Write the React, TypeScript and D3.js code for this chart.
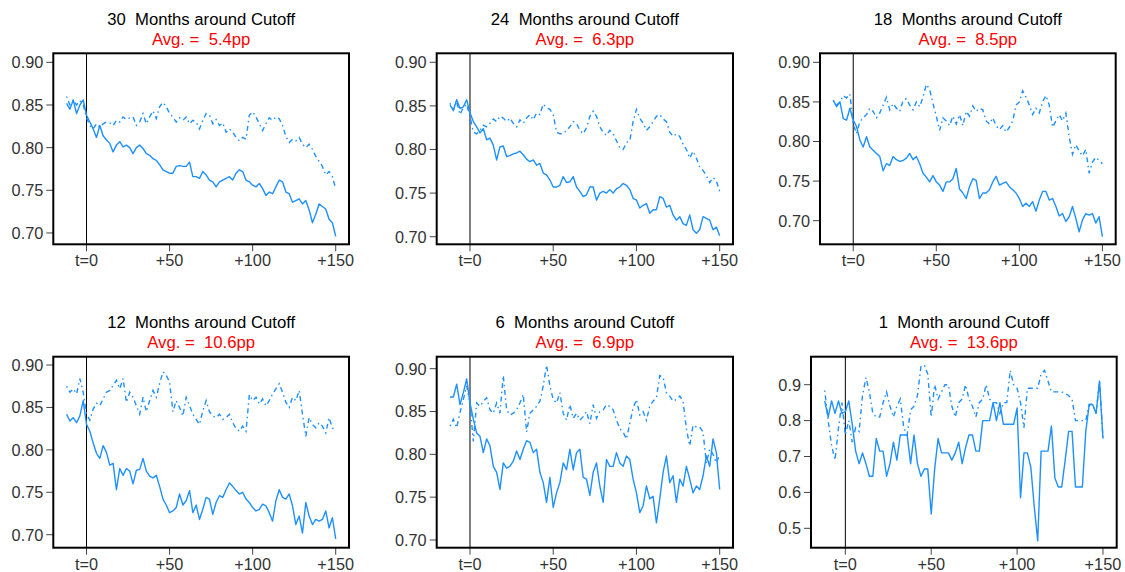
import * as d3 from "d3";

// months relative to the cutoff (every second month)
const months = d3.range(-12, 151, 2);

const titles = [
  "30  Months around Cutoff",
  "24  Months around Cutoff",
  "18  Months around Cutoff",
  "12  Months around Cutoff",
  "6  Months around Cutoff",
  "1  Month around Cutoff",
];
const averages = ["5.4", "6.3", "8.5", "10.6", "6.9", "13.6"];

const xTicks = [0, 50, 100, 150];
const xTickLabels = ["t=0", "+50", "+100", "+150"];
const yTicksFine = [0.7, 0.75, 0.8, 0.85, 0.9];
const yTicksCoarse = [0.5, 0.6, 0.7, 0.8, 0.9];
const yLimits = [
  [0.6867, 0.9106],
  [0.6913, 0.9103],
  [0.6702, 0.9114],
  [0.6847, 0.9098],
  [0.691, 0.914],
  [0.446, 0.978],
];

// solid line (treated)
const solid30 = [
  0.852, 0.845, 0.856, 0.84, 0.85, 0.856, 0.838, 0.83, 0.822, 0.812,
  0.826, 0.814, 0.809, 0.805, 0.795, 0.803, 0.807, 0.801, 0.803, 0.8,
  0.793, 0.8, 0.803, 0.799, 0.793, 0.791, 0.787, 0.785, 0.78, 0.774,
  0.772, 0.77, 0.77, 0.778, 0.779, 0.778, 0.778, 0.783, 0.766, 0.766,
  0.764, 0.772, 0.768, 0.762, 0.76, 0.754, 0.76, 0.762, 0.764, 0.766,
  0.762, 0.77, 0.774, 0.772, 0.762, 0.76, 0.756, 0.754, 0.758, 0.752,
  0.744, 0.748, 0.746, 0.754, 0.762, 0.76, 0.748, 0.746, 0.736, 0.738,
  0.74, 0.734, 0.738, 0.727, 0.712, 0.722, 0.734, 0.731, 0.728, 0.716,
  0.712, 0.696,
];
const dashed30 = [
  0.86, 0.85, 0.856, 0.85, 0.855, 0.85, 0.835, 0.826, 0.822, 0.828,
  0.824, 0.828, 0.83, 0.829, 0.826, 0.832, 0.83, 0.836, 0.833, 0.835,
  0.836, 0.826, 0.83, 0.84, 0.828, 0.836, 0.843, 0.834, 0.848, 0.853,
  0.848, 0.84, 0.836, 0.83, 0.835, 0.832, 0.836, 0.828, 0.832, 0.83,
  0.822, 0.832, 0.84, 0.838, 0.828, 0.833, 0.826, 0.829, 0.818, 0.822,
  0.818, 0.812, 0.808, 0.812, 0.81, 0.838, 0.842, 0.836, 0.828, 0.82,
  0.828, 0.835, 0.832, 0.836, 0.834, 0.826, 0.813, 0.806, 0.81, 0.808,
  0.812, 0.804, 0.8, 0.804, 0.798, 0.79, 0.784, 0.778, 0.768, 0.772,
  0.766, 0.752,
];
const solid24 = [
  0.851, 0.845, 0.857, 0.847, 0.849, 0.857, 0.842, 0.832, 0.826, 0.819,
  0.824, 0.811, 0.813, 0.805, 0.788, 0.803, 0.804, 0.792, 0.793, 0.795,
  0.796, 0.798, 0.794, 0.789, 0.786, 0.788, 0.782, 0.784, 0.773, 0.771,
  0.765, 0.757, 0.757, 0.759, 0.769, 0.762, 0.763, 0.769, 0.757, 0.752,
  0.746, 0.748, 0.757, 0.757, 0.742, 0.75, 0.752, 0.75, 0.754, 0.75,
  0.755, 0.757, 0.761, 0.759, 0.754, 0.744, 0.742, 0.733, 0.736, 0.738,
  0.727, 0.731, 0.731, 0.746, 0.744, 0.734, 0.736, 0.725, 0.719, 0.723,
  0.715, 0.713, 0.725, 0.708, 0.704, 0.708, 0.723, 0.721, 0.719, 0.708,
  0.711, 0.701,
];
const dashed24 = [
  0.853, 0.845, 0.855, 0.84, 0.848, 0.852, 0.838, 0.82, 0.818, 0.822,
  0.828, 0.826, 0.83, 0.835, 0.832, 0.838, 0.836, 0.832, 0.836, 0.83,
  0.826, 0.834, 0.83, 0.836, 0.84, 0.834, 0.842, 0.84, 0.852, 0.848,
  0.846, 0.84, 0.82, 0.818, 0.818, 0.822, 0.826, 0.832, 0.83, 0.822,
  0.818, 0.825, 0.838, 0.844, 0.838, 0.826, 0.82, 0.816, 0.822, 0.818,
  0.81, 0.802, 0.8, 0.808, 0.81, 0.832, 0.846, 0.836, 0.83, 0.822,
  0.826, 0.832, 0.838, 0.84, 0.835, 0.832, 0.82, 0.815, 0.818, 0.815,
  0.806, 0.8, 0.79, 0.798, 0.79, 0.78, 0.776, 0.77, 0.762, 0.768,
  0.764, 0.752,
];
const solid18 = [
  0.852, 0.844, 0.85, 0.829, 0.827, 0.842, 0.827, 0.819, 0.802, 0.793,
  0.806, 0.793, 0.789, 0.785, 0.781, 0.763, 0.772, 0.77, 0.781, 0.777,
  0.775, 0.776, 0.779, 0.785, 0.777, 0.781, 0.772, 0.76, 0.755, 0.749,
  0.757, 0.749, 0.745, 0.737, 0.749, 0.749, 0.753, 0.766, 0.74, 0.735,
  0.728, 0.743, 0.753, 0.751, 0.728, 0.735, 0.735, 0.739, 0.749, 0.756,
  0.745, 0.747, 0.749, 0.743, 0.739, 0.735, 0.728, 0.718, 0.722, 0.718,
  0.724, 0.712, 0.726, 0.737, 0.737, 0.726, 0.728, 0.718, 0.706, 0.709,
  0.699, 0.705, 0.718, 0.703, 0.686, 0.701, 0.709, 0.707, 0.709, 0.697,
  0.705, 0.68,
];
const dashed18 = [
  0.852, 0.846, 0.85, 0.858, 0.855, 0.86, 0.822, 0.81, 0.825, 0.83,
  0.834, 0.842, 0.838, 0.83, 0.836, 0.846, 0.856, 0.84, 0.848, 0.842,
  0.838, 0.852, 0.854, 0.846, 0.84, 0.85, 0.844, 0.856, 0.872, 0.866,
  0.848, 0.832, 0.814, 0.83, 0.826, 0.82, 0.832, 0.822, 0.834, 0.82,
  0.838, 0.832, 0.845, 0.838, 0.842, 0.84, 0.826, 0.822, 0.83, 0.82,
  0.815, 0.82, 0.812, 0.818, 0.826, 0.846, 0.85, 0.864, 0.856, 0.846,
  0.834, 0.842, 0.836, 0.85, 0.858, 0.846, 0.818, 0.826, 0.834, 0.826,
  0.836, 0.806, 0.784, 0.796, 0.788, 0.782, 0.79, 0.76, 0.774, 0.78,
  0.776, 0.772,
];
const solid12 = [
  0.842, 0.834, 0.838, 0.832, 0.84, 0.858, 0.83, 0.822, 0.808, 0.796,
  0.79, 0.805, 0.797, 0.782, 0.784, 0.753, 0.778, 0.77, 0.778, 0.775,
  0.76, 0.776, 0.777, 0.79, 0.775, 0.769, 0.767, 0.77, 0.757, 0.742,
  0.735, 0.726, 0.728, 0.732, 0.748, 0.735, 0.74, 0.752, 0.726, 0.735,
  0.718, 0.73, 0.744, 0.742, 0.724, 0.738, 0.746, 0.744, 0.753, 0.761,
  0.757, 0.752, 0.748, 0.75, 0.742, 0.738, 0.732, 0.728, 0.73, 0.736,
  0.734, 0.726, 0.716, 0.74, 0.753, 0.744, 0.742, 0.748, 0.734, 0.712,
  0.722, 0.702, 0.738, 0.722, 0.712, 0.718, 0.716, 0.718, 0.728, 0.708,
  0.72, 0.695,
];
const dashed12 = [
  0.875, 0.868, 0.872, 0.866, 0.884, 0.868, 0.842, 0.835, 0.848, 0.855,
  0.852, 0.86, 0.868, 0.87, 0.876, 0.882, 0.872, 0.884, 0.856, 0.868,
  0.862, 0.852, 0.842, 0.862, 0.845, 0.858, 0.87, 0.862, 0.878, 0.892,
  0.888, 0.88, 0.845, 0.858, 0.85, 0.84, 0.862, 0.852, 0.842, 0.836,
  0.83, 0.846, 0.858, 0.845, 0.84, 0.838, 0.842, 0.836, 0.838, 0.842,
  0.832, 0.825, 0.822, 0.828, 0.822, 0.865, 0.858, 0.862, 0.854, 0.86,
  0.852, 0.858, 0.866, 0.872, 0.878, 0.868, 0.856, 0.85, 0.862, 0.858,
  0.87, 0.842, 0.816, 0.838, 0.83, 0.826, 0.832, 0.828, 0.82, 0.838,
  0.826, 0.822,
];
const solid6 = [
  0.867, 0.867, 0.882, 0.858, 0.872, 0.888, 0.86, 0.841, 0.825, 0.821,
  0.802, 0.818, 0.81, 0.786, 0.779, 0.759, 0.79, 0.784, 0.786, 0.792,
  0.804, 0.794, 0.806, 0.816, 0.814, 0.802, 0.806, 0.779, 0.767, 0.744,
  0.773, 0.738, 0.755, 0.767, 0.79, 0.782, 0.806, 0.782, 0.802, 0.806,
  0.773, 0.771, 0.752, 0.779, 0.79, 0.763, 0.744, 0.794, 0.786, 0.786,
  0.802, 0.79, 0.786, 0.798, 0.794, 0.771, 0.755, 0.732, 0.74, 0.763,
  0.748, 0.751, 0.72, 0.748, 0.779, 0.798, 0.767, 0.775, 0.744, 0.771,
  0.763, 0.786, 0.771, 0.755, 0.763, 0.759, 0.775, 0.798, 0.786, 0.818,
  0.802, 0.759,
];
const dashed6 = [
  0.833, 0.841, 0.831, 0.849, 0.864, 0.88, 0.86, 0.815, 0.86, 0.856,
  0.862, 0.866, 0.852, 0.848, 0.86, 0.848, 0.892, 0.852, 0.846, 0.848,
  0.852, 0.86, 0.87, 0.826, 0.848, 0.852, 0.856, 0.862, 0.88, 0.904,
  0.88, 0.864, 0.86, 0.872, 0.848, 0.84, 0.858, 0.842, 0.848, 0.84,
  0.844, 0.85, 0.836, 0.858, 0.842, 0.85, 0.852, 0.858, 0.856, 0.852,
  0.84, 0.83, 0.826, 0.818, 0.836, 0.854, 0.864, 0.846, 0.85, 0.84,
  0.856, 0.862, 0.866, 0.892, 0.89, 0.872, 0.868, 0.862, 0.864, 0.868,
  0.862, 0.83, 0.81, 0.834, 0.832, 0.832, 0.826, 0.79, 0.806, 0.8,
  0.79, 0.8,
];
const solid1 = [
  0.855, 0.81, 0.855, 0.82, 0.855, 0.82, 0.825, 0.855, 0.79, 0.715,
  0.68, 0.71, 0.68, 0.645, 0.645, 0.75, 0.715, 0.715, 0.645, 0.68,
  0.74, 0.69, 0.76, 0.76, 0.76, 0.68, 0.76, 0.68, 0.645, 0.665,
  0.665, 0.54, 0.665, 0.75, 0.71, 0.71, 0.71, 0.69, 0.71, 0.74,
  0.68, 0.725, 0.76, 0.76, 0.715, 0.715, 0.8, 0.8, 0.8, 0.85,
  0.8, 0.85, 0.79, 0.79, 0.79, 0.79, 0.835, 0.585, 0.71, 0.71,
  0.67, 0.56, 0.465, 0.715, 0.715, 0.715, 0.785, 0.64, 0.615, 0.615,
  0.69, 0.77, 0.77, 0.615, 0.615, 0.615, 0.77, 0.845, 0.845, 0.82,
  0.91, 0.75,
];
const dashed1 = [
  0.884, 0.8, 0.73, 0.69, 0.78, 0.85, 0.76, 0.8, 0.74, 0.78,
  0.77, 0.87, 0.92, 0.88, 0.82, 0.81, 0.81, 0.85, 0.88, 0.84,
  0.81, 0.84, 0.86, 0.78, 0.76, 0.83, 0.84, 0.87, 0.95, 0.955,
  0.93, 0.81, 0.9, 0.86, 0.88, 0.9, 0.9, 0.84, 0.81, 0.85,
  0.86, 0.9, 0.86, 0.84, 0.81, 0.85, 0.86, 0.9, 0.86, 0.85,
  0.85, 0.82, 0.85, 0.85, 0.94, 0.9, 0.89, 0.85, 0.78, 0.89,
  0.89, 0.89, 0.89, 0.93, 0.94, 0.91, 0.88, 0.88, 0.88, 0.88,
  0.875, 0.87, 0.86, 0.8, 0.8, 0.8, 0.8, 0.845, 0.845, 0.82,
  0.91, 0.75,
];

const solids = [solid30, solid24, solid18, solid12, solid6, solid1];
const dasheds = [dashed30, dashed24, dashed18, dashed12, dashed6, dashed1];

const W = 1125;
const H = 572;
const BLUE = "#1E90FF";
const FONT = "'Liberation Sans', Arial, Helvetica, sans-serif";

// plot boxes [left, right, top, bottom]
const boxes = [
  [53.3, 349, 53.3, 244.3],
  [436.7, 733, 53.3, 244.3],
  [820, 1115.7, 53.3, 244.3],
  [53.3, 349, 356.7, 547.7],
  [436.7, 733, 356.7, 547.7],
  [811, 1116.7, 356.7, 547.7],
];

const Panel = ({ i }: { i: number }) => {
  const [l, r, t, b] = boxes[i];
  const x = d3.scaleLinear().domain([-20, 158]).range([l, r]);
  const y = d3.scaleLinear().domain(yLimits[i]).range([b, t]);
  const yTicks = i === 5 ? yTicksCoarse : yTicksFine;
  const fmt = i === 5 ? d3.format(".1f") : d3.format(".2f");
  const line = d3
    .line<number>()
    .x((_, k) => x(months[k]))
    .y((v) => y(v));
  const cx = (l + r) / 2;
  return (
    <g>
      <text x={cx} y={t - 28.3} textAnchor="middle" fontSize={16.7} fill="#000" style={{ whiteSpace: "pre" }}>
        {titles[i]}
      </text>
      <text x={cx} y={t - 8.3} textAnchor="middle" fontSize={16.7} fill="#FF0000" style={{ whiteSpace: "pre" }}>
        {"Avg. =  " + averages[i] + "pp"}
      </text>
      {yTicks.map((v) => (
        <g key={v}>
          <line x1={l - 7} x2={l} y1={y(v)} y2={y(v)} stroke="#444" strokeWidth={1} />
          <text x={l - 10} y={y(v)} dy="0.36em" textAnchor="end" fontSize={16.3} fill="#333">
            {fmt(v)}
          </text>
        </g>
      ))}
      {xTicks.map((v, k) => (
        <g key={v}>
          <line x1={x(v)} x2={x(v)} y1={b} y2={b + 7} stroke="#444" strokeWidth={1} />
          <text x={x(v)} y={b + 22} textAnchor="middle" fontSize={16.3} fill="#333">
            {xTickLabels[k]}
          </text>
        </g>
      ))}
      <line x1={x(0)} x2={x(0)} y1={t} y2={b} stroke="#000" strokeWidth={1} />
      <path d={line(dasheds[i]) || ""} fill="none" stroke={BLUE} strokeWidth={1.4} strokeDasharray="1.5,3.5,5,3.5" />
      <path d={line(solids[i]) || ""} fill="none" stroke={BLUE} strokeWidth={1.4} strokeLinejoin="round" />
      <rect x={l} y={t} width={r - l} height={b - t} fill="none" stroke="#000" strokeWidth={2} />
    </g>
  );
};

export default function App() {
  return (
    <svg
      width={W}
      height={H}
      style={{ position: "absolute", left: 0, top: 0, background: "#fff" }}
      fontFamily={FONT}
    >
      {titles.map((_, i) => (
        <Panel key={i} i={i} />
      ))}
    </svg>
  );
}
